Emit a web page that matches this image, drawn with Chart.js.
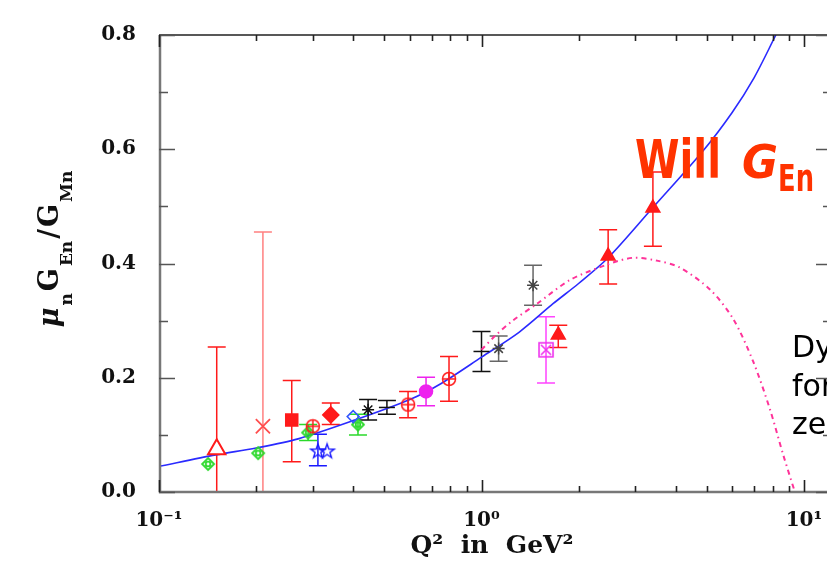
<!DOCTYPE html>
<html lang="en">
<head>
<meta charset="UTF-8">
<title>Neutron GEn/GMn ratio</title>
<script src="https://cdn.jsdelivr.net/npm/chart.js"></script>
<style>
  html, body { margin: 0; padding: 0; background: #fff; overflow: hidden; }
  #wrap { width: 860px; height: 562px; }
</style>
</head>
<body>
<div id="wrap"><canvas id="chart" width="860" height="562"></canvas></div>
<script>
// ---- data ----
const xTickValues = [0.1, 1, 10];
const xTickLabels = ['10⁻¹', '10⁰', '10¹'];
const yTickValues = [0, 0.2, 0.4, 0.6, 0.8];

// blue fit curve
const fitQ2  = [0.1, 0.15, 0.2, 0.27, 0.4, 0.6, 0.75, 1.0, 1.31, 1.67, 2.0, 2.47, 3.4, 4.86, 5.98, 7.0, 8.18];
const fitVal = [0.045, 0.065, 0.077, 0.093, 0.125, 0.162, 0.19, 0.236, 0.28, 0.33, 0.365, 0.41, 0.498, 0.597, 0.664, 0.725, 0.8];

// pink dash-dot curve
const dseQ2  = [1.0, 1.11, 1.25, 1.49, 1.88, 2.45, 2.95, 3.5, 4.12, 5.12, 6.03, 6.95, 7.85, 8.61, 9.37];
const dseVal = [0.249, 0.275, 0.30, 0.33, 0.371, 0.398, 0.41, 0.405, 0.393, 0.354, 0.303, 0.229, 0.144, 0.066, 0.0];

// data points
const greenQ2 = [0.142, 0.203, 0.29, 0.414];
const greenVal = [0.049, 0.068, 0.104, 0.118];
const greenErr = [0.004, 0.005, 0.014, 0.018];

const openTriQ2 = [0.151];
const openTriVal = [0.075];
const openTriUp = [0.179];
const openTriDn = [0.075];

const crossQ2 = [0.21];
const crossVal = [0.115];
const crossUp = [0.34];
const crossDn = [0.115];

const squareQ2 = [0.258];
const squareVal = [0.126];
const squareUp = [0.069];
const squareDn = [0.073];

const circQ2 = [0.30, 0.592, 0.793];
const circVal = [0.115, 0.153, 0.198];
const circErr = [0.006, 0.023, 0.039];

const diaQ2 = [0.341];
const diaVal = [0.135];
const diaUp = [0.021];
const diaDn = [0.017];

const starQ2 = [0.311, 0.332];
const starVal = [0.071, 0.071];
const starUp = [0.03, 0.006];
const starDn = [0.025, 0.006];

const openDiaQ2 = [0.40];
const openDiaVal = [0.132];

const astQ2 = [0.445];
const astVal = [0.144];
const astErr = [0.018];

const barQ2 = [0.509, 1.0];
const barVal = [0.148, 0.246];
const barErr = [0.012, 0.035];

const grayQ2 = [1.13, 1.445];
const grayVal = [0.251, 0.362];
const grayErr = [0.022, 0.035];

const magQ2 = [0.673];
const magVal = [0.176];
const magErr = [0.025];

const sqxQ2 = [1.585];
const sqxVal = [0.249];
const sqxErr = [0.058];

const triQ2 = [1.73, 2.47, 3.40];
const triVal = [0.275, 0.413, 0.497];
const triUp = [0.017, 0.046, 0.063];
const triDn = [0.022, 0.049, 0.067];

// ---- layout ----
const AREA_LEFT = 159, AREA_RIGHT = 832, AREA_TOP = 20, AREA_BOTTOM = 492;
const DECADE = 322.5;
const xMax = Math.pow(10, (AREA_RIGHT - AREA_LEFT) / DECADE - 1);

function pts(xs, ys) {
    return xs.map((x, i) => ({ x: x, y: ys[i] }));
}

function marker(size, draw) {
    const c = document.createElement('canvas');
    c.width = c.height = size;
    const g = c.getContext('2d');
    draw(g, size / 2);
    return c;
}

const circlePlus = marker(20, (g, c) => {
    g.strokeStyle = '#ff1a1a'; g.lineWidth = 1.5;
    g.beginPath(); g.arc(c, c, 6.5, 0, Math.PI * 2); g.stroke();
    g.beginPath(); g.moveTo(c - 6.5, c); g.lineTo(c + 6.5, c); g.moveTo(c, c - 6.5); g.lineTo(c, c + 6.5); g.stroke();
});

const diamondDot = marker(18, (g, c) => {
    g.strokeStyle = '#2bd92b'; g.lineWidth = 1.8;
    g.beginPath(); g.moveTo(c, c - 6); g.lineTo(c + 6, c); g.lineTo(c, c + 6); g.lineTo(c - 6, c); g.closePath(); g.stroke();
    g.beginPath(); g.arc(c, c, 2.3, 0, Math.PI * 2); g.stroke();
});

const pentagram = marker(20, (g, c) => {
    g.strokeStyle = '#1a1aff'; g.lineWidth = 1.4;
    g.beginPath();
    for (let i = 0; i < 10; i++) {
        const r = i % 2 ? 3 : 7.5;
        const a = -Math.PI / 2 + i * Math.PI / 5;
        const px = c + r * Math.cos(a), py = c + r * Math.sin(a);
        if (i) g.lineTo(px, py); else g.moveTo(px, py);
    }
    g.closePath(); g.stroke();
});

const squareX = marker(20, (g, c) => {
    g.strokeStyle = '#ee33ee'; g.lineWidth = 1.6;
    g.strokeRect(c - 7, c - 7, 14, 14);
    g.beginPath(); g.moveTo(c - 5, c - 5); g.lineTo(c + 5, c + 5); g.moveTo(c + 5, c - 5); g.lineTo(c - 5, c + 5); g.stroke();
});

function points(xs, ys, up, dn, style) {
    return Object.assign({
        data: pts(xs, ys),
        errUp: up,
        errDn: dn || up,
        pointRadius: 6,
        pointBorderWidth: 1.5,
        pointBackgroundColor: 'rgba(0,0,0,0)'
    }, style);
}

const datasets = [
    points(triQ2, triVal, triUp, triDn, { pointStyle: 'triangle', pointRadius: 8, borderColor: '#ff1a1a', pointBackgroundColor: '#ff1a1a' }),
    points(sqxQ2, sqxVal, sqxErr, null, { pointStyle: squareX, borderColor: '#ff44ff' }),
    points(magQ2, magVal, magErr, null, { pointStyle: 'circle', pointRadius: 6.5, borderColor: '#ee22ee', pointBackgroundColor: '#ee22ee' }),
    points(grayQ2, grayVal, grayErr, null, { pointStyle: 'star', pointRadius: 6, borderColor: '#444', barColor: '#666' }),
    points(barQ2, barVal, barErr, null, { pointStyle: 'line', pointRadius: 8, borderColor: '#111' }),
    points(astQ2, astVal, astErr, null, { pointStyle: 'star', pointRadius: 6, borderColor: '#111' }),
    points(openDiaQ2, openDiaVal, [0], null, { pointStyle: 'rectRot', pointRadius: 6, borderColor: '#3355ff' }),
    points(starQ2, starVal, starUp, starDn, { pointStyle: pentagram, borderColor: '#1a1aff' }),
    points(diaQ2, diaVal, diaUp, diaDn, { pointStyle: 'rectRot', pointRadius: 8, borderColor: '#ff1a1a', pointBackgroundColor: '#ff1a1a' }),
    points(circQ2, circVal, circErr, null, { pointStyle: circlePlus, borderColor: '#ff1a1a' }),
    points(squareQ2, squareVal, squareUp, squareDn, { pointStyle: 'rect', pointRadius: 8.5, borderColor: '#ff1a1a', pointBackgroundColor: '#ff1a1a' }),
    points(crossQ2, crossVal, crossUp, crossDn, { pointStyle: 'crossRot', pointRadius: 10, pointBorderWidth: 1.8, borderColor: '#ff4d4d', barColor: '#ff8080' }),
    points(openTriQ2, openTriVal, openTriUp, openTriDn, { pointStyle: 'triangle', pointRadius: 10, pointBorderWidth: 2, borderColor: '#ff1a1a', pointBackgroundColor: '#fff' }),
    points(greenQ2, greenVal, greenErr, null, { pointStyle: diamondDot, borderColor: '#2bd92b' }),
    {
        data: pts(dseQ2, dseVal), showLine: true, pointRadius: 0,
        borderColor: '#ff3399', borderWidth: 2, borderDash: [5, 4, 1.5, 4], tension: 0.3
    },
    {
        data: pts(fitQ2, fitVal), showLine: true, pointRadius: 0,
        borderColor: '#2a2aff', borderWidth: 1.6, tension: 0.3
    }
];

// error bars, drawn under the markers
const errorBars = {
    id: 'errorBars',
    beforeDatasetsDraw(chart) {
        const { ctx, scales: { x, y } } = chart;
        chart.data.datasets.forEach(ds => {
            if (!ds.errUp) return;
            ctx.save();
            ctx.strokeStyle = ds.barColor || ds.borderColor;
            ctx.lineWidth = 1.5;
            ds.data.forEach((p, j) => {
                const up = ds.errUp[j], dn = ds.errDn[j];
                if (up < 0.01 && dn < 0.01) return;
                const px = x.getPixelForValue(p.x);
                const top = y.getPixelForValue(p.y + up);
                const bot = y.getPixelForValue(p.y - dn);
                ctx.beginPath();
                ctx.moveTo(px, top); ctx.lineTo(px, bot);
                ctx.moveTo(px - 9, top); ctx.lineTo(px + 9, top);
                ctx.moveTo(px - 9, bot); ctx.lineTo(px + 9, bot);
                ctx.stroke();
            });
            ctx.restore();
        });
    }
};

function fitText(ctx, str, font, x, y, width) {
    ctx.save();
    ctx.font = font;
    const w = ctx.measureText(str).width;
    ctx.translate(x, y);
    ctx.scale(width / w, 1);
    ctx.fillText(str, 0, 0);
    ctx.restore();
}

// titles, annotations and the box with inward ticks
const decorations = {
    id: 'decorations',
    afterDraw(chart) {
        const { ctx, chartArea: a, scales: { x, y } } = chart;
        ctx.save();

        // annotation text
        ctx.fillStyle = '#ff3300';
        fitText(ctx, 'Will', 'bold 53px "DejaVu Sans"', 635, 178, 86);
        fitText(ctx, 'G', 'bold italic 47px "DejaVu Sans"', 742, 178, 36);
        fitText(ctx, 'En', 'bold 38px "DejaVu Sans"', 778, 191, 36);

        ctx.fillStyle = '#000';
        ctx.font = '30px "DejaVu Sans"';
        ctx.fillText('Dyson-Schwinger', 792, 357);
        ctx.fillText('form factor', 792, 396);
        ctx.fillText('zero', 792, 434);

        // frame
        ctx.lineCap = 'butt';
        ctx.strokeStyle = '#777';
        ctx.lineWidth = 2.5;
        ctx.beginPath();
        ctx.moveTo(a.left + 1, a.top); ctx.lineTo(a.left + 1, a.bottom);
        ctx.lineTo(a.right, a.bottom);
        ctx.stroke();
        ctx.strokeStyle = '#222';
        ctx.lineWidth = 1.6;
        ctx.beginPath();
        ctx.moveTo(a.left, a.top); ctx.lineTo(a.right, a.top); ctx.lineTo(a.right, a.bottom);
        ctx.stroke();

        // y ticks, major and minor, both sides
        ctx.lineWidth = 1.6;
        ctx.strokeStyle = '#555';
        for (let v = 0; v <= 0.8001; v += 0.1) {
            const py = Math.round(y.getPixelForValue(v)) + 0.5;
            const major = Math.round(v * 10) % 2 === 0;
            const len = major ? 16 : 9;
            ctx.beginPath();
            ctx.moveTo(a.left, py); ctx.lineTo(a.left + len, py);
            ctx.moveTo(a.right, py); ctx.lineTo(a.right - len, py);
            ctx.stroke();
        }
        // x ticks, bottom and top
        ctx.strokeStyle = '#222';
        for (let d = -1; d <= 1; d++) {
            for (let k = 1; k <= 9; k++) {
                const v = k * Math.pow(10, d);
                if (v > xMax) continue;
                const px = Math.round(x.getPixelForValue(v)) + 0.5;
                const len = k === 1 ? 12 : 6;
                ctx.beginPath();
                ctx.moveTo(px, a.bottom); ctx.lineTo(px, a.bottom - len);
                ctx.moveTo(px, a.top); ctx.lineTo(px, a.top + len);
                ctx.stroke();
            }
        }

        // axis titles
        ctx.fillStyle = '#111';
        ctx.font = 'bold 25px "DejaVu Serif"';
        ctx.textAlign = 'center';
        ctx.fillText('Q²  in  GeV²', 492, 553);

        ctx.textAlign = 'left';
        const main = 'bold 27px "DejaVu Serif"', mainIt = 'bold italic 27px "DejaVu Serif"', sub = 'bold 17px "DejaVu Serif"';
        const parts = [['μ', mainIt, 0], ['n', sub, 14], ['G', main, 0], ['En', sub, 14], ['/', main, 0], ['G', main, 0], ['Mn', sub, 14]];
        let total = 0;
        parts.forEach(p => { ctx.font = p[1]; p.push(ctx.measureText(p[0]).width + 2); total += p[3]; });
        ctx.translate(58, 248);
        ctx.rotate(-Math.PI / 2);
        let cx = -total / 2;
        parts.forEach(p => {
            ctx.font = p[1];
            ctx.fillText(p[0], cx, p[2]);
            cx += p[3];
        });
        ctx.restore();
    }
};

new Chart(document.getElementById('chart'), {
    type: 'scatter',
    data: { datasets: datasets },
    options: {
        responsive: false,
        animation: false,
        layout: { padding: { top: AREA_TOP, right: 860 - AREA_RIGHT, left: 0, bottom: 0 } },
        plugins: { legend: { display: false }, tooltip: { enabled: false } },
        scales: {
            x: {
                type: 'logarithmic',
                min: 0.1,
                max: xMax,
                grid: { display: false, drawTicks: false },
                border: { display: false },
                ticks: {
                    autoSkip: false,
                    maxRotation: 0,
                    padding: 17,
                    color: '#111',
                    font: { family: 'DejaVu Serif', size: 20, weight: 'bold' },
                    callback: v => {
                        const i = xTickValues.findIndex(t => Math.abs(v / t - 1) < 1e-6);
                        return i < 0 ? '' : xTickLabels[i];
                    }
                },
                afterFit: s => { s.height = 562 - AREA_BOTTOM; }
            },
            y: {
                min: yTickValues[0],
                max: yTickValues[yTickValues.length - 1],
                grid: { display: false, drawTicks: false },
                border: { display: false },
                ticks: {
                    stepSize: 0.2,
                    padding: 23,
                    color: '#111',
                    font: { family: 'DejaVu Serif', size: 20, weight: 'bold' },
                    callback: v => v.toFixed(1)
                },
                afterFit: s => { s.width = AREA_LEFT; }
            }
        }
    },
    plugins: [errorBars, decorations]
});
</script>
</body>
</html>
